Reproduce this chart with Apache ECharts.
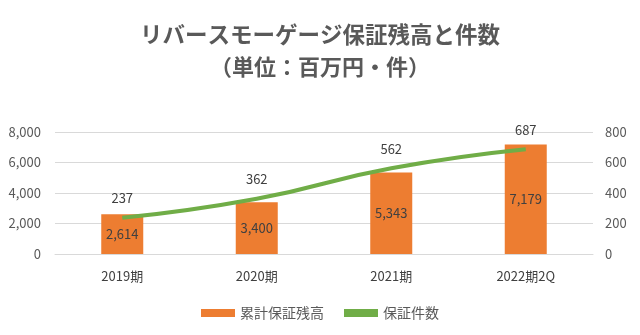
<!DOCTYPE html>
<html><head><meta charset="utf-8">
<script src="https://cdn.jsdelivr.net/npm/echarts@6/dist/echarts.min.js"></script>
<style>html,body{margin:0;padding:0;background:#fff}#c{width:640px;height:335px}</style>
</head><body><div id="c"></div>
<script>
const categories = ['2019期', '2020期', '2021期', '2022期2Q'];
const balance = [2614, 3400, 5343, 7179];
const counts = [237, 362, 562, 687];
const leftTicks = [0, 2000, 4000, 6000, 8000];
const rightTicks = [0, 200, 400, 600, 800];

const font = '"Noto Sans CJK JP", "Noto Sans", sans-serif';
const chart = echarts.init(document.getElementById('c'));
chart.setOption({
  animation: false,
  textStyle: { fontFamily: font },
  title: [
    { text: 'リバースモーゲージ保証残高と件数', left: 'center', top: 18,
      textStyle: { fontSize: 22.5, fontWeight: 'bold', color: '#595959', fontFamily: font } },
    { text: '（単位：百万円・件）', left: 'center', top: 51,
      textStyle: { fontSize: 22, fontWeight: 'bold', color: '#595959', fontFamily: font } }
  ],
  legend: {
    bottom: 10, left: 'center', itemGap: 20, itemWidth: 34, itemHeight: 8,
    textStyle: { fontSize: 14, color: '#595959', fontFamily: font },
    data: [{ name: '累計保証残高', icon: 'rect' }, { name: '保証件数', icon: 'rect' }]
  },
  grid: { left: 55, right: 47, top: 132, bottom: 81 },
  xAxis: {
    type: 'category', data: categories,
    axisLine: { show: true, lineStyle: { color: '#d9d9d9' } },
    axisTick: { show: false },
    axisLabel: { fontSize: 13, color: '#404040', margin: 16 }
  },
  yAxis: [
    { type: 'value', min: leftTicks[0], max: leftTicks[leftTicks.length - 1], interval: 2000,
      axisLabel: { fontSize: 13, color: '#595959', margin: 14,
        formatter: v => v.toLocaleString('en-US') },
      splitLine: { lineStyle: { color: '#d9d9d9' } },
      axisLine: { show: false }, axisTick: { show: false } },
    { type: 'value', min: rightTicks[0], max: rightTicks[rightTicks.length - 1], interval: 200,
      axisLabel: { fontSize: 13, color: '#595959', margin: 12 },
      splitLine: { show: false }, axisLine: { show: false }, axisTick: { show: false } }
  ],
  series: [
    { name: '累計保証残高', type: 'bar', data: balance, barWidth: 42,
      itemStyle: { color: '#ED7D31' },
      label: { show: true, position: 'inside', fontSize: 13, color: '#404040',
        formatter: p => p.value.toLocaleString('en-US') } },
    { name: '保証件数', type: 'line', yAxisIndex: 1, data: counts, smooth: true,
      symbol: 'circle', symbolSize: 0, showSymbol: true,
      lineStyle: { width: 4, color: '#70AD47' }, itemStyle: { color: '#70AD47' },
      label: { show: true, position: 'top', distance: 13, fontSize: 13, color: '#404040' } }
  ]
});
</script></body></html>
